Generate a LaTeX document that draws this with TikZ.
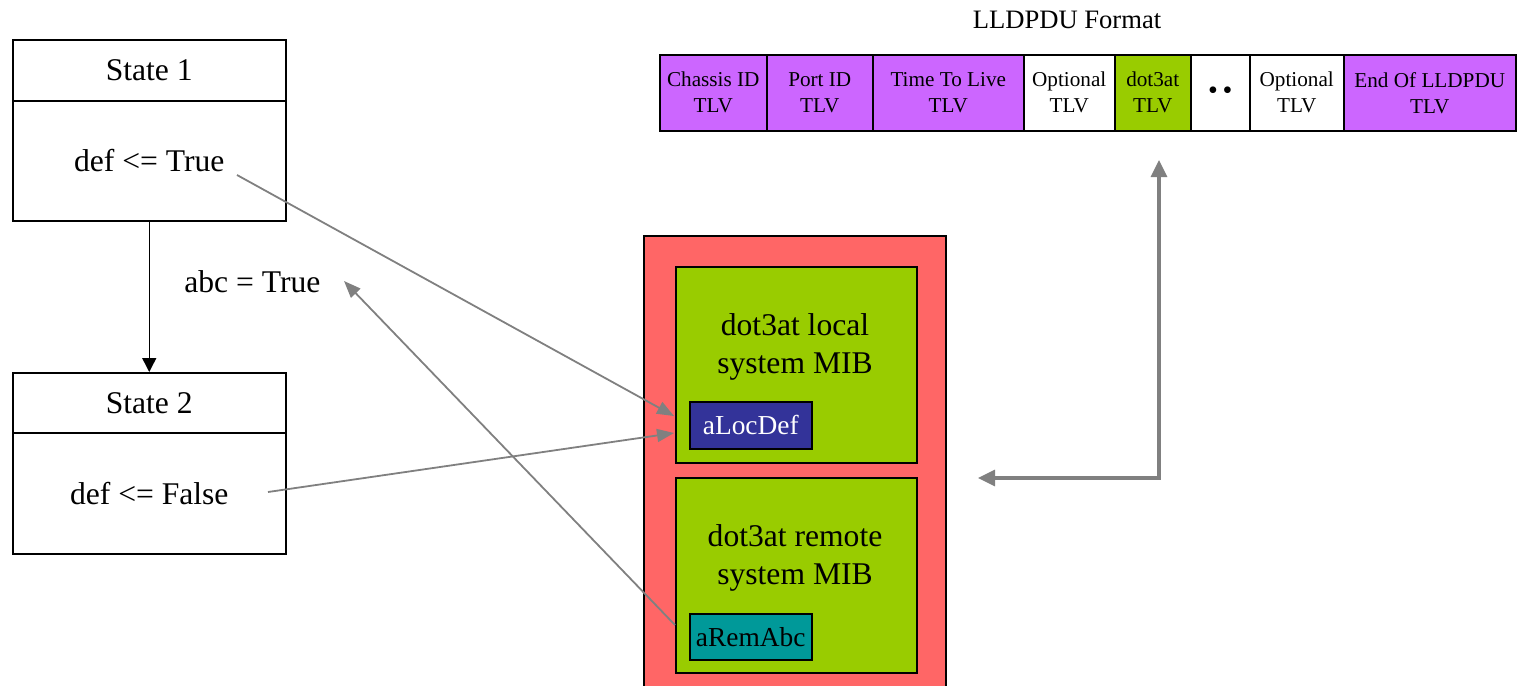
\documentclass[tikz,border=0pt]{standalone}
\usepackage{fontspec}
\setmainfont{Liberation Serif}
\usetikzlibrary{arrows.meta}
\definecolor{purp}{HTML}{CC66FF}
\definecolor{lime}{HTML}{99CC00}
\definecolor{redbg}{HTML}{FF6666}
\definecolor{navy}{HTML}{333399}
\definecolor{tealc}{HTML}{009999}
\definecolor{grayc}{HTML}{808080}
\begin{document}
\begin{tikzpicture}[x=0.5pt,y=-0.5pt,
  box/.style={draw=black, line width=0.75pt, inner sep=0pt, anchor=north west, align=center},
  big/.style={font=\fontsize{15.8}{19}\selectfont},
  small/.style={font=\fontsize{10.6}{13}\selectfont},
  cell/.style={box, small, minimum height=38pt},
  gbox/.style={box, fill=lime, line width=0.9pt},
  link/.style={draw=grayc, line width=0.9pt, -{Triangle[length=8.5pt,width=6.5pt]}},
  fat/.style={draw=grayc, line width=1.6pt, {Triangle[length=8.5pt,width=8pt]}-{Triangle[length=8.5pt,width=8pt]}}
]
\useasboundingbox (0,0) rectangle (1518,685);

% state machine
\node[box, big, minimum width=136.5pt, minimum height=30.5pt] (s1h) at (12,39) {State 1};
\node[box, big, minimum width=136.5pt, minimum height=60pt] (s1b) at (12,100) {def <= True};
\node[box, big, minimum width=136.5pt, minimum height=30pt] (s2h) at (12,372) {State 2};
\node[box, big, minimum width=136.5pt, minimum height=60.5pt] (s2b) at (12,432) {def <= False};
\draw[line width=0.75pt, -{Triangle[length=7pt,width=7pt]}] (s1b.south) -- (s2h.north);
\node[big, anchor=west, inner sep=0pt] (abc) at (184,282) {abc = True};

% LLDPDU format
\node[small, font=\fontsize{13.3}{16}\selectfont] (title) at (1067,20) {LLDPDU Format};
\node[cell, fill=purp, minimum width=53.5pt] (c1) at (659,54) {Chassis ID\\TLV};
\node[cell, fill=purp, minimum width=53pt] (c2) at (766,54) {Port ID\\TLV};
\node[cell, fill=purp, minimum width=75.5pt] (c3) at (872,54) {Time To Live\\TLV};
\node[cell, fill=white, minimum width=45.5pt] (c4) at (1023,54) {Optional\\TLV};
\node[cell, fill=lime, minimum width=38pt] (c5) at (1114,54) {dot3at\\TLV};
\node[cell, fill=white, minimum width=29.5pt, font=\fontsize{14}{16}\selectfont] (c6) at (1190,54) {\textbullet\,\textbullet};
\node[cell, fill=white, minimum width=47pt] (c7) at (1249,54) {Optional\\TLV};
\node[cell, fill=purp, minimum width=86pt] (c8) at (1343,54) {End Of LLDPDU\\TLV};

% MIB container
\fill[redbg] (644,236) rectangle (946,690);
\draw[line width=0.9pt] (644,690) -- (644,236) -- (946,236) -- (946,690);
\node[gbox, minimum width=120.5pt, minimum height=98pt] (loc) at (675,266) {};
\node[gbox, minimum width=120.5pt, minimum height=97.5pt] (rem) at (675,477) {};
\node[big, align=center, inner sep=0pt] (loct) at (795,347) {dot3at local\\system MIB};
\node[big, align=center, inner sep=0pt] (remt) at (795,558) {dot3at remote\\system MIB};
\node[box, fill=navy, text=white, minimum width=61pt, minimum height=23.5pt, font=\fontsize{13.7}{16}\selectfont] (aloc) at (689,401) {aLocDef};
\node[box, fill=tealc, minimum width=61pt, minimum height=23pt, font=\fontsize{13.7}{16}\selectfont] (arem) at (689,613) {aRemAbc};

% connectors
\coordinate (p1) at (237,175);
\coordinate (p2) at (268,492);
\coordinate (q1) at (674,416);
\coordinate (q2) at (674,433);
\coordinate (r1) at (675,625);
\coordinate (r2) at (344,281);
\draw[link] (p1) -- (q1);
\draw[link] (p2) -- (q2);
\draw[link] (r1) -- (r2);

\coordinate (up) at (1159,160);
\coordinate (corner) at (1159,478);
\coordinate (left) at (978,478);
\draw[fat] (up) -- (corner) -- (left);
\end{tikzpicture}
\end{document}
